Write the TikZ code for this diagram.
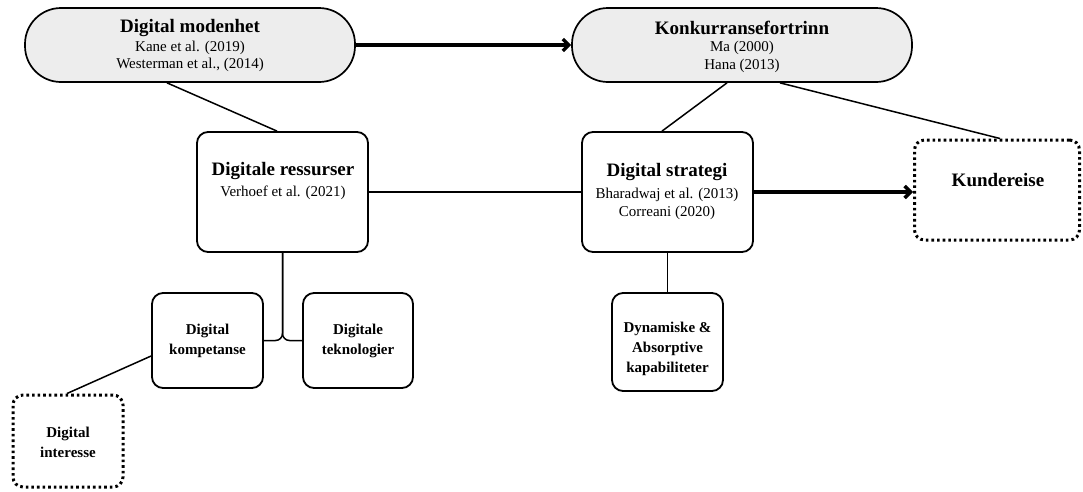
\documentclass[tikz,border=0pt]{standalone}
\usepackage{fontspec}
\setmainfont{Liberation Serif}
\usetikzlibrary{arrows.meta}
\begin{document}
\begin{tikzpicture}[x=1pt,y=-1pt,
  stadium/.style={draw, line width=1.7pt, fill=black!7, rounded corners=36pt, minimum height=74pt, inner sep=0pt},
  boxr/.style={draw, line width=1.8pt, rounded corners=11pt, inner sep=0pt},
  dotbox/.style={draw, line width=3pt, dash pattern=on 2.6pt off 3pt, rounded corners=10pt, inner sep=0pt},
  conn/.style={line width=1.5pt},
  thickarrow/.style={line width=3.4pt, -{Straight Barb[length=6pt,width=12pt]}},
  ttl/.style={font=\fontsize{19}{21}\selectfont\bfseries, inner sep=0pt},
  sub/.style={font=\fontsize{15}{17}\selectfont, inner sep=0pt},
  small/.style={font=\fontsize{15}{20}\selectfont\bfseries, align=center, inner sep=0pt}
]
\useasboundingbox (0,0) rectangle (1083,491);

% boxes
\node[stadium, minimum width=330pt] (dm) at (190,45) {};
\node[stadium, minimum width=340pt] (kf) at (742,45) {};
\node[boxr, minimum width=171pt, minimum height=120pt] (dr) at (282.5,192) {};
\node[boxr, minimum width=171pt, minimum height=120pt] (ds) at (667.5,192) {};
\node[dotbox, minimum width=165pt, minimum height=100pt] (kr) at (997,190) {};
\node[boxr, minimum width=111pt, minimum height=95pt] (dk) at (207.5,340.5) {};
\node[boxr, minimum width=110pt, minimum height=95pt] (dt) at (358,340.5) {};
\node[boxr, minimum width=111pt, minimum height=98pt] (dy) at (667.5,342) {};
\node[dotbox, minimum width=110pt, minimum height=92pt] (di) at (68,441) {};

% texts
\node[ttl] (dmt) at (190,28) {Digital modenhet};
\node[sub] (dms1) at (190,48) {Kane et al. (2019)};
\node[sub] (dms2) at (190,65) {Westerman et al., (2014)};

\node[ttl] (kft) at (742,28) {Konkurransefortrinn};
\node[sub] (kfs1) at (742,48) {Ma (2000)};
\node[sub] (kfs2) at (742,66) {Hana (2013)};

\node[ttl] (drt) at (283,171) {Digitale ressurser};
\node[sub] (drs) at (283,193) {Verhoef et al. (2021)};

\node[ttl] (dst) at (667,172) {Digital strategi};
\node[sub] (dss1) at (667,195) {Bharadwaj et al. (2013)};
\node[sub] (dss2) at (667,213) {Correani (2020)};

\node[ttl] (krt) at (998,180) {Kundereise};

\node[small] (dkt) at (207.5,340.5) {Digital\\kompetanse};
\node[small] (dtt) at (358,340.5) {Digitale\\teknologier};
\node[small] (dyt) at (667.5,349) {Dynamiske \&\\Absorptive\\kapabiliteter};
\node[small] (dit) at (68,442) {Digital\\interesse};

% connectors
\draw[thickarrow] (dm.east) -- (kf.west);
\draw[conn] ([xshift=-23pt]dm.south) -- ([xshift=-5.5pt]dr.north);
\draw[conn] ([xshift=-15pt]kf.south) -- ([xshift=-5.5pt]ds.north);
\draw[conn] ([xshift=38pt]kf.south) -- ([xshift=3pt]kr.north);
\draw[conn] (dr.east) -- (ds.west);
\draw[thickarrow] (ds.east) -- (ds.east -| kr.west);
\draw[conn] (ds.south) -- (dy.north);
\draw[conn, rounded corners=7pt] (dk.east) -- (dk.east -| dr.south) -- (dr.south);
\draw[conn, rounded corners=7pt] (dt.west) -- (dt.west -| dr.south) -- (dr.south);
\draw[conn] ([yshift=-15.5pt]dk.west) -- ([xshift=-1pt]di.north);
\end{tikzpicture}
\end{document}
